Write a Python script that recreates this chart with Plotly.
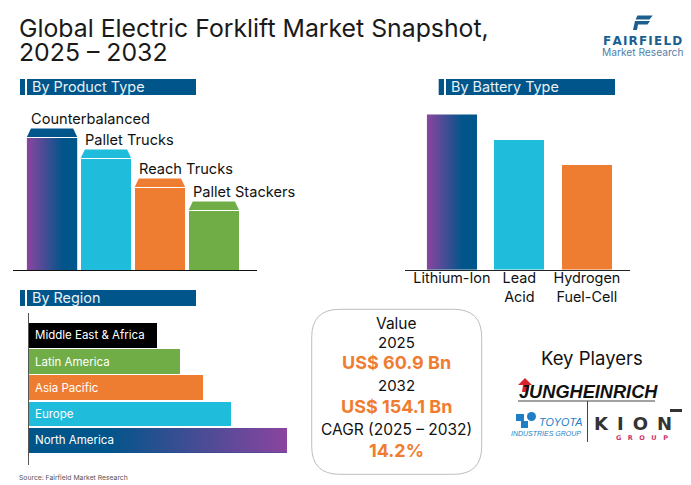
"""Global electric forklift market snapshot, single-page infographic."""
import plotly.graph_objects as go

W, H = 691, 485

NAVY = "#00558A"
PURPLE = "#8B449F"
CYAN = "#1FBCDC"
ORANGE = "#EF7D31"
GREEN = "#70AD47"
BLACK = "#000000"
FONT = "Inter"

product_types = ["Counterbalanced", "Pallet Trucks", "Reach Trucks", "Pallet Stackers"]
product_values = [132, 111, 82, 59]

battery_types = ["Lithium-Ion", "Lead<br>Acid", "Hydrogen<br>Fuel-Cell"]
battery_values = [155, 130, 105]

regions = ["North America", "Europe", "Asia Pacific", "Latin America", "Middle East & Africa"]
region_values = [258, 202, 174, 151, 128]


def px_x(x):
    return x / W


def px_y(y):
    return 1 - y / H


def label(text, x, y, size=14, color="#111111", anchor="left", weight=None, family=FONT, italic=False):
    """Paper-level text placed by pixel position of the reference."""
    return dict(
        text=text,
        xref="paper",
        yref="paper",
        x=px_x(x),
        y=px_y(y),
        xanchor=anchor,
        yanchor="middle",
        showarrow=False,
        borderpad=0,
        font=dict(
            family=family,
            size=size,
            color=color,
            weight=weight if weight else "normal",
            style="italic" if italic else "normal",
        ),
    )


def box(x0, y0, x1, y1, color):
    return dict(
        type="rect",
        xref="paper",
        yref="paper",
        x0=px_x(x0),
        x1=px_x(x1),
        y0=px_y(y0),
        y1=px_y(y1),
        fillcolor=color,
        line=dict(width=0),
    )


def poly(points, color):
    path = "M " + " L ".join(f"{px_x(x):.5f},{px_y(y):.5f}" for x, y in points) + " Z"
    return dict(type="path", xref="paper", yref="paper", path=path, fillcolor=color, line=dict(width=0))


def rule(x0, y0, x1, y1, color, width=1):
    return dict(
        type="line",
        xref="paper",
        yref="paper",
        x0=px_x(x0),
        x1=px_x(x1),
        y0=px_y(y0),
        y1=px_y(y1),
        line=dict(color=color, width=width),
    )


fig = go.Figure()

# product type bars with a bevelled cap on top
BAR_W = 0.933
product_x = list(range(len(product_types)))
fig.add_trace(
    go.Bar(
        x=product_x,
        y=product_values,
        width=BAR_W,
        marker=dict(color=[NAVY, CYAN, ORANGE, GREEN], line=dict(width=0)),
        showlegend=False,
        xaxis="x",
        yaxis="y",
    )
)
fig.add_trace(
    go.Scatter(
        x=[-BAR_W / 2, BAR_W / 2, BAR_W / 2, -BAR_W / 2, -BAR_W / 2],
        y=[0, 0, product_values[0], product_values[0], 0],
        mode="lines",
        line=dict(width=0),
        fill="toself",
        fillgradient=dict(type="horizontal", colorscale=[[0, PURPLE], [0.72, NAVY], [1, NAVY]]),
        showlegend=False,
        xaxis="x",
        yaxis="y",
    )
)
for i, (value, color) in enumerate(zip(product_values, [NAVY, CYAN, ORANGE, GREEN])):
    inset = BAR_W / 2 - 0.075
    fig.add_trace(
        go.Scatter(
            x=[i - BAR_W / 2, i + BAR_W / 2, i + inset, i - inset, i - BAR_W / 2],
            y=[value + 1, value + 1, value + 9.5, value + 9.5, value + 1],
            mode="lines",
            line=dict(width=0),
            fill="toself",
            fillcolor=color,
            showlegend=False,
            xaxis="x",
            yaxis="y",
        )
    )

# battery type bars
battery_x = list(range(len(battery_types)))
BATTERY_W = 0.74
fig.add_trace(
    go.Bar(
        x=battery_x,
        y=battery_values,
        width=BATTERY_W,
        marker=dict(color=[NAVY, CYAN, ORANGE], line=dict(width=0)),
        showlegend=False,
        xaxis="x2",
        yaxis="y2",
    )
)
fig.add_trace(
    go.Scatter(
        x=[-BATTERY_W / 2, BATTERY_W / 2, BATTERY_W / 2, -BATTERY_W / 2, -BATTERY_W / 2],
        y=[0, 0, battery_values[0], battery_values[0], 0],
        mode="lines",
        line=dict(width=0),
        fill="toself",
        fillgradient=dict(type="horizontal", colorscale=[[0, PURPLE], [0.72, NAVY], [1, NAVY]]),
        showlegend=False,
        xaxis="x2",
        yaxis="y2",
    )
)

# region bars, horizontal
REGION_H = 0.94
region_y = list(range(len(regions)))
fig.add_trace(
    go.Bar(
        x=region_values,
        y=region_y,
        width=REGION_H,
        orientation="h",
        marker=dict(color=[NAVY, CYAN, ORANGE, GREEN, BLACK], line=dict(width=0)),
        showlegend=False,
        xaxis="x3",
        yaxis="y3",
    )
)
fig.add_trace(
    go.Scatter(
        x=[0, region_values[0], region_values[0], 0, 0],
        y=[-REGION_H / 2, -REGION_H / 2, REGION_H / 2, REGION_H / 2, -REGION_H / 2],
        mode="lines",
        line=dict(width=0),
        fill="toself",
        fillgradient=dict(type="horizontal", colorscale=[[0, NAVY], [0.3, NAVY], [1, PURPLE]]),
        showlegend=False,
        xaxis="x3",
        yaxis="y3",
    )
)

annotations = []

# category labels sitting on the bars
for i, name in enumerate(product_types):
    annotations.append(
        dict(
            text=name,
            xref="x",
            yref="y",
            x=i - BAR_W / 2,
            y=product_values[i] + 9.5,
            xanchor="left",
            yanchor="bottom",
            xshift=2,
            yshift=-2,
            showarrow=False,
            font=dict(family=FONT, size=14.6, color="#111111"),
        )
    )
for i, name in enumerate(regions):
    annotations.append(
        dict(
            text=name,
            xref="x3",
            yref="y3",
            x=0,
            y=i,
            xanchor="left",
            yanchor="middle",
            xshift=4,
            showarrow=False,
            font=dict(family=FONT, size=11.5, color="#FFFFFF"),
        )
    )

annotations += [
    label("Global Electric Forklift Market Snapshot,", 18, 28, size=24.8, color="#1A1A1A"),
    label("2025 – 2032", 18, 52, size=24.8, color="#1A1A1A"),
    label("By Product Type", 30.5, 86.5, size=14.4, color="#E8F1F6"),
    label("By Battery Type", 450, 86.5, size=14.4, color="#E8F1F6"),
    label("By Region", 30.5, 297.5, size=14.4, color="#E8F1F6"),
    label("Source: Fairfield Market Research", 18, 477, size=6.8, color="#555555"),
    # value box
    label("Value", 396, 323, size=15.5, anchor="center"),
    label("2025", 396, 342, size=15, anchor="center"),
    label("US$ 60.9 Bn", 396, 362, size=18, color=ORANGE, anchor="center", weight=700),
    label("2032", 396, 385, size=15, anchor="center"),
    label("US$ 154.1 Bn", 396, 406, size=18, color=ORANGE, anchor="center", weight=700),
    label("CAGR (2025 – 2032)", 396, 429, size=15.5, anchor="center"),
    label("14.2%", 396, 450, size=18, color=ORANGE, anchor="center", weight=700),
    # key players
    label("Key Players", 592, 358, size=18.5, anchor="center"),
    label("JUNGHEINRICH", 517.5, 392, size=18.2, color="#111111", weight=700,
          family="Liberation Sans", italic=True),
    label("TOYOTA", 537.5, 421.5, size=10.8, color="#1E7FC8", family="Liberation Sans", italic=True),
    label("INDUSTRIES GROUP", 509.5, 433, size=7, color="#1E7FC8", family="Liberation Sans", italic=True),
    label("K\u2002I\u2002O\u2002N", 593, 423, size=18, color="#333333", weight=700, family="DejaVu Sans"),
    label("G\u2002\u2002R\u2002\u2002O\u2002\u2002U\u2002\u2002P", 614.5, 437.5, size=6.5,
          color="#C8326E", weight=700, family="DejaVu Sans"),
    # fairfield logo
    label("F\u200aA\u200aI\u200aR\u200aF\u200aI\u200aE\u200aL\u200aD", 602, 40.7, size=12,
          color="#1C5F8F", weight=700, family="DejaVu Sans"),
    label("Market Research", 600.5, 52, size=10.2, color="#4F7FA8"),
]

# rounded value box, r = 28 px
x0, y0, x1, y1, r = 311.7, 309.3, 481.7, 474.3, 28
value_box = (
    f"M {px_x(x0 + r):.5f},{px_y(y0):.5f} L {px_x(x1 - r):.5f},{px_y(y0):.5f} "
    f"Q {px_x(x1):.5f},{px_y(y0):.5f} {px_x(x1):.5f},{px_y(y0 + r):.5f} "
    f"L {px_x(x1):.5f},{px_y(y1 - r):.5f} "
    f"Q {px_x(x1):.5f},{px_y(y1):.5f} {px_x(x1 - r):.5f},{px_y(y1):.5f} "
    f"L {px_x(x0 + r):.5f},{px_y(y1):.5f} "
    f"Q {px_x(x0):.5f},{px_y(y1):.5f} {px_x(x0):.5f},{px_y(y1 - r):.5f} "
    f"L {px_x(x0):.5f},{px_y(y0 + r):.5f} "
    f"Q {px_x(x0):.5f},{px_y(y0):.5f} {px_x(x0 + r):.5f},{px_y(y0):.5f} Z"
)

shapes = [
    box(20, 79, 25, 95, NAVY),
    box(27, 79, 196, 95, NAVY),
    box(438.7, 79, 444, 95, NAVY),
    box(446, 79, 615, 95, NAVY),
    box(20, 290, 25, 306, NAVY),
    box(27, 290, 196, 306, NAVY),
    dict(type="path", xref="paper", yref="paper", path=value_box,
         fillcolor="rgba(0,0,0,0)", line=dict(color="#BDBDBD", width=1)),
    # fairfield mark
    poly([(637.5, 15.5), (652.7, 15.5), (649.5, 19.5), (635.5, 19.5)], "#1C5F8F"),
    poly([(633, 30), (635, 21), (650, 21), (647.5, 24.5), (638, 24.5), (637, 30)], "#1C5F8F"),
    # jungheinrich arrow and rules
    poly([(525, 378), (532, 385), (529, 385), (528, 392), (522, 392), (523, 385), (518, 385)], "#D8232A"),
    rule(518, 401, 655, 401, "#444444"),
    rule(587.5, 401, 587.5, 442, "#444444"),
    # toyota mark
    box(516, 414, 524, 421, "#1E7FC8"),
    box(521, 421, 528, 428, "#1E7FC8"),
    dict(type="circle", xref="paper", yref="paper", x0=px_x(527), x1=px_x(536),
         y0=px_y(412), y1=px_y(421), fillcolor="#1E7FC8", line=dict(width=0)),
    # kion dash
    box(670, 409, 682, 412, "#333333"),
]

fig.update_layout(
    width=W,
    height=H,
    autosize=False,
    margin=dict(l=0, r=0, t=0, b=0),
    paper_bgcolor="#FFFFFF",
    plot_bgcolor="rgba(0,0,0,0)",
    showlegend=False,
    bargap=0,
    annotations=annotations,
    shapes=shapes,
    font=dict(family=FONT),
    hovermode=False,
    xaxis=dict(
        domain=[px_x(13), px_x(257)],
        range=[-0.724, 3.80],
        anchor="y",
        showgrid=False,
        zeroline=False,
        showline=True,
        linecolor="#111111",
        linewidth=1,
        showticklabels=False,
        ticks="",
    ),
    yaxis=dict(
        domain=[px_y(270), px_y(100)],
        range=[0, 170],
        anchor="x",
        visible=False,
    ),
    xaxis2=dict(
        domain=[px_x(405), px_x(630)],
        range=[-0.695, 2.639],
        anchor="y2",
        showgrid=False,
        zeroline=False,
        showline=True,
        linecolor="#222222",
        linewidth=1,
        tickmode="array",
        tickvals=battery_x,
        ticktext=battery_types,
        ticks="",
        tickangle=0,
        ticklabelstandoff=-5,
        tickfont=dict(family=FONT, size=14.4, color="#111111"),
    ),
    yaxis2=dict(
        domain=[px_y(269.5), px_y(100)],
        range=[0, 169.5],
        anchor="x2",
        visible=False,
    ),
    xaxis3=dict(
        domain=[px_x(29), px_x(300)],
        range=[0, 271],
        anchor="y3",
        visible=False,
    ),
    yaxis3=dict(
        domain=[px_y(465), px_y(313)],
        range=[-0.94, 4.85],
        anchor="x3",
        showgrid=False,
        zeroline=False,
        showline=True,
        linecolor="#555555",
        linewidth=1,
        showticklabels=False,
        ticks="",
    ),
)

# the page's default body margin would push the figure off its pixel grid
fig.write_html(
    "out.html",
    config={"displayModeBar": False},
    post_script="document.body.style.margin='0';document.body.style.overflow='hidden';",
)
